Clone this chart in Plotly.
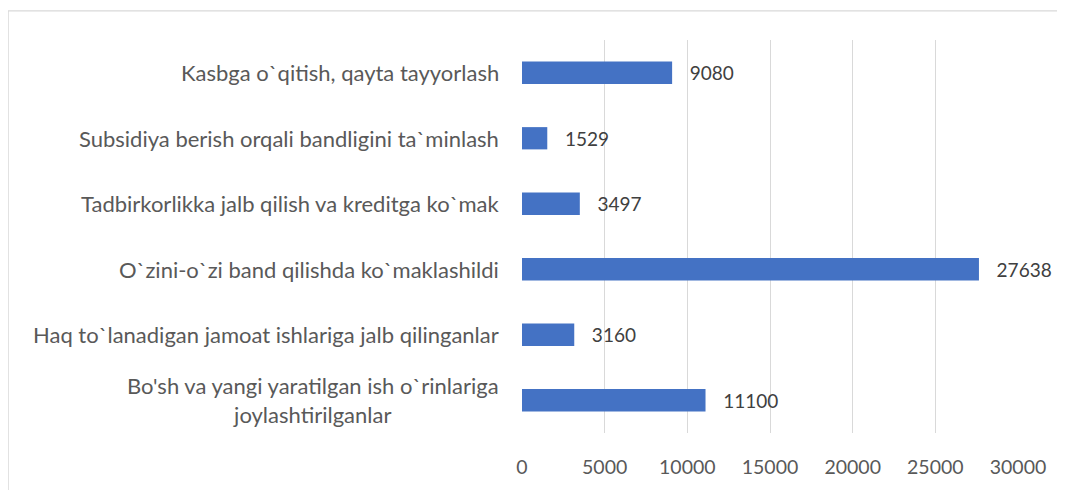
import plotly.graph_objects as go

# top-to-bottom order as shown
categories = [
    "Kasbga o`qitish, qayta tayyorlash",
    "Subsidiya berish orqali bandligini ta`minlash",
    "Tadbirkorlikka jalb qilish va kreditga ko`mak",
    "O`zini-o`zi band qilishda ko`maklashildi",
    "Haq to`lanadigan jamoat ishlariga jalb qilinganlar",
    "Bo'sh va yangi yaratilgan ish o`rinlariga<br>joylashtirilganlar",
]
values = [9080, 1529, 3497, 27638, 3160, 11100]
x_ticks = [0, 5000, 10000, 15000, 20000, 25000, 30000]

FONT = "Lato"
GREY = "#595959"
BLUE = "#4472C4"

fig = go.Figure(go.Bar(
    x=values, y=list(range(len(categories))), orientation="h",
    marker=dict(color=BLUE, line_width=0), width=0.34,
    text=[f"\u00a0\u00a0\u00a0{v}" for v in values], textposition="outside",
    textfont=dict(family=FONT, size=20.5, color="#404040"),
    cliponaxis=False, hoverinfo="skip",
))

# category labels, centred like the Excel original
for i, c in enumerate(categories):
    fig.add_annotation(x=0, xref="paper", xanchor="right", xshift=-21,
                       y=i, yref="y", text=c, showarrow=False, align="center",
                       font=dict(family=FONT, size=22, color=GREY))

# chart area border (only top/left visible in the crop)
fig.add_shape(type="rect", xref="paper", yref="paper",
              x0=-1.036, x1=1.2, y0=-0.2, y1=1.074,
              line=dict(color="#d9d9d9", width=1.2), fillcolor="rgba(0,0,0,0)")

# page body adds an 8px offset, so the figure is 8px smaller
fig.update_layout(
    width=1057, height=482, margin=dict(l=514, r=47, t=32, b=57),
    plot_bgcolor="white", paper_bgcolor="white", showlegend=False,
    font=dict(family=FONT, color=GREY),
)
fig.update_xaxes(range=[0, 30000], tickvals=x_ticks,
                 ticktext=[str(t) for t in x_ticks], showgrid=True,
                 gridcolor="#d9d9d9", gridwidth=1.2, zeroline=False,
                 showline=False, ticks="", ticklabelstandoff=20,
                 tickfont=dict(family=FONT, size=19.5, color=GREY))
fig.update_yaxes(range=[len(categories) - 0.5, -0.5], showticklabels=False,
                 showgrid=False, zeroline=False, showline=False)

fig.write_html("out.html")
